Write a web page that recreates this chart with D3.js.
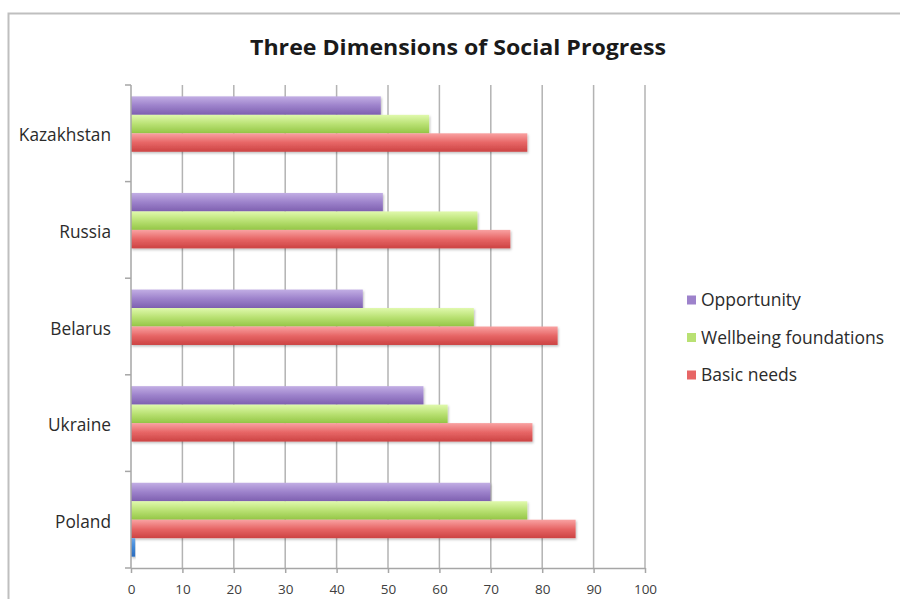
<!DOCTYPE html>
<html>
<head>
<meta charset="utf-8">
<script src="https://cdn.jsdelivr.net/npm/d3@7"></script>
<style>
  body { margin: 0; background: #fff; }
  svg { display: block; }
  text { font-family: "Open Sans", "Noto Sans", sans-serif; }
</style>
</head>
<body>
<svg id="chart" width="900" height="599"></svg>
<script>
// Countries, listed top to bottom
const categories = ["Kazakhstan", "Russia", "Belarus", "Ukraine", "Poland"];

// Series names (the fourth series has no name and is left out of the legend)
const seriesNames = ["Opportunity", "Wellbeing foundations", "Basic needs", ""];

// Scores per country, in category order
const opportunity = [48.6, 49.0, 45.1, 56.9, 69.9];
const wellbeing   = [58.0, 67.4, 66.7, 61.6, 77.1];
const basicNeeds  = [77.1, 73.8, 83.0, 78.1, 86.5];
const unnamed     = [0, 0, 0, 0, 0.8];

// Value axis ticks
const xTicks = [0, 10, 20, 30, 40, 50, 60, 70, 80, 90, 100];

const seriesValues = [opportunity, wellbeing, basicNeeds, unnamed];
const seriesColors = [
  { top: "#c2aee4", mid: "#9d82cb", bottom: "#7e60b0" },
  { top: "#e0f9ad", mid: "#b9e173", bottom: "#94c646" },
  { top: "#f9a2a2", mid: "#e76666", bottom: "#cc4343" },
  { top: "#6aa7ea", mid: "#3f86d6", bottom: "#2c6cbd" }
];
const keys = seriesNames.map((_, i) => "s" + i);

const svg = d3.select("#chart");

// Chart frame
svg.append("rect")
  .attr("x", 8.5).attr("y", 13.5)
  .attr("width", 900).attr("height", 600)
  .attr("fill", "#fff")
  .attr("stroke", "#bfbfbf")
  .attr("stroke-width", 2);

// Gradients and bar shadow
const defs = svg.append("defs");
seriesColors.forEach((c, i) => {
  const g = defs.append("linearGradient")
    .attr("id", "grad" + i)
    .attr("x1", 0).attr("y1", 0).attr("x2", 0).attr("y2", 1);
  g.append("stop").attr("offset", "0%").attr("stop-color", c.top);
  g.append("stop").attr("offset", "50%").attr("stop-color", c.mid);
  g.append("stop").attr("offset", "100%").attr("stop-color", c.bottom);
});
defs.append("filter").attr("id", "shadow")
  .attr("x", "-5%").attr("y", "-20%").attr("width", "110%").attr("height", "160%")
  .append("feDropShadow")
  .attr("dx", 1).attr("dy", 1.5).attr("stdDeviation", 1)
  .attr("flood-color", "#000").attr("flood-opacity", 0.25);

// Scales
const plotTop = 85, plotBottom = 568;
const x = d3.scaleLinear().domain([0, 100]).range([131, 645]);
const y0 = d3.scaleBand()
  .domain(categories)
  .range([plotTop, plotBottom])
  .paddingInner(0.235)
  .paddingOuter(0.1175);
const y1 = d3.scaleBand().domain(keys).range([0, y0.bandwidth()]);

// Title
svg.append("text")
  .attr("x", 458).attr("y", 55)
  .attr("text-anchor", "middle")
  .attr("font-size", 21)
  .attr("font-weight", "bold")
  .attr("fill", "#1a1a1a")
  .attr("textLength", 416)
  .attr("lengthAdjust", "spacingAndGlyphs")
  .text("Three Dimensions of Social Progress");

// Vertical gridlines
svg.append("g")
  .selectAll("line")
  .data(xTicks.filter(t => t > 0))
  .join("line")
  .attr("x1", d => x(d)).attr("x2", d => x(d))
  .attr("y1", plotTop).attr("y2", plotBottom)
  .attr("stroke", "#b3b3b3")
  .attr("stroke-width", 1.5);

// Bottom axis
const xAxis = svg.append("g")
  .attr("transform", `translate(0,${plotBottom})`)
  .call(d3.axisBottom(x).tickValues(xTicks).tickSize(5).tickSizeOuter(0).tickPadding(11));
xAxis.select(".domain").attr("stroke", "#a6a6a6").attr("stroke-width", 1.5);
xAxis.selectAll(".tick line").attr("stroke", "#a6a6a6").attr("stroke-width", 1.5);
xAxis.selectAll(".tick text")
  .attr("font-size", 13.5)
  .attr("fill", "#404040")
  .style("font-family", "'Open Sans', sans-serif");

// Bars
const groups = svg.append("g")
  .selectAll("g")
  .data(categories)
  .join("g")
  .attr("transform", d => `translate(0,${y0(d)})`);

groups.selectAll("rect")
  .data((c, ci) => keys.map((k, si) => ({ key: k, si, value: seriesValues[si][ci] })))
  .join("rect")
  .filter(d => d.value > 0)
  .attr("x", x(0))
  .attr("y", d => y1(d.key))
  .attr("width", d => x(d.value) - x(0))
  .attr("height", y1.bandwidth())
  .attr("fill", d => `url(#grad${d.si})`)
  .attr("filter", "url(#shadow)");

// Left axis: line with ticks at category boundaries
const boundaries = d3.range(categories.length + 1).map(i => plotTop + i * y0.step());
const yAxisG = svg.append("g");
yAxisG.append("line")
  .attr("x1", x(0)).attr("x2", x(0))
  .attr("y1", plotTop).attr("y2", plotBottom)
  .attr("stroke", "#a6a6a6").attr("stroke-width", 1.5);
yAxisG.selectAll("line.tick")
  .data(boundaries)
  .join("line")
  .attr("class", "tick")
  .attr("x1", x(0) - 6).attr("x2", x(0))
  .attr("y1", d => d).attr("y2", d => d)
  .attr("stroke", "#a6a6a6").attr("stroke-width", 1.5);

// Category labels
yAxisG.selectAll("text")
  .data(categories)
  .join("text")
  .attr("x", 111)
  .attr("y", d => y0(d) + y0.bandwidth() / 2 + 2)
  .attr("dy", "0.35em")
  .attr("text-anchor", "end")
  .attr("font-size", 17.3)
  .attr("fill", "#2b2b2b")
  .text(d => d);

// Legend (named series only)
const legendRows = [0, 1, 2];
const legend = svg.append("g")
  .selectAll("g")
  .data(legendRows)
  .join("g")
  .attr("transform", (d, i) => `translate(687,${300 + i * 37.5})`);
legend.append("rect")
  .attr("x", 0).attr("y", -4.5)
  .attr("width", 9).attr("height", 9)
  .attr("fill", d => seriesColors[d].mid);
legend.append("text")
  .attr("x", 14).attr("y", 0)
  .attr("dy", "0.35em")
  .attr("font-size", 17.5)
  .attr("fill", "#2b2b2b")
  .text(d => seriesNames[d]);
</script>
</body>
</html>
